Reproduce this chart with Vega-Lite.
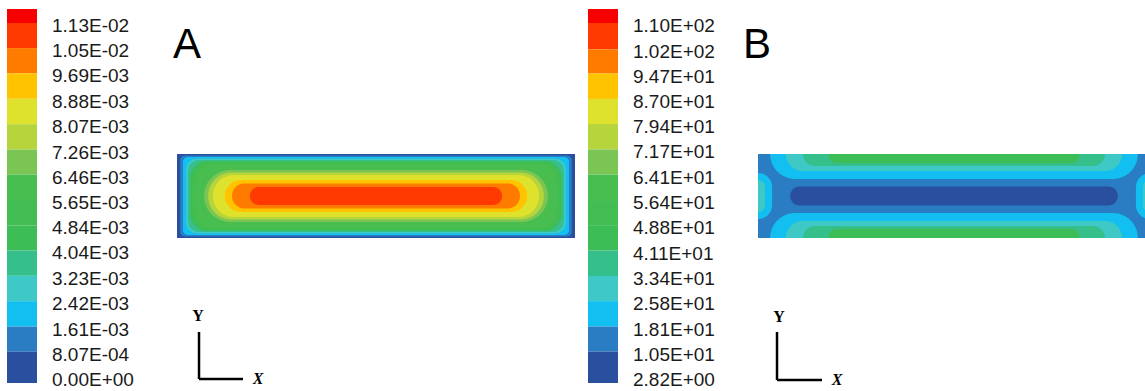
{
  "$schema": "https://vega.github.io/schema/vega-lite/v6.json",
  "background": "white",
  "padding": {"left": 7, "top": 9, "right": 0, "bottom": 0},
  "config": {"view": {"stroke": null}},
  "datasets": {
    "legendA_bands": [
      {"k": 14, "lo": 0.0113, "hi": 0.011747},
      {"k": 13, "lo": 0.0105, "hi": 0.0113},
      {"k": 12, "lo": 0.00969, "hi": 0.0105},
      {"k": 11, "lo": 0.00888, "hi": 0.00969},
      {"k": 10, "lo": 0.00807, "hi": 0.00888},
      {"k": 9, "lo": 0.00726, "hi": 0.00807},
      {"k": 8, "lo": 0.00646, "hi": 0.00726},
      {"k": 7, "lo": 0.00565, "hi": 0.00646},
      {"k": 6, "lo": 0.00484, "hi": 0.00565},
      {"k": 5, "lo": 0.00404, "hi": 0.00484},
      {"k": 4, "lo": 0.00323, "hi": 0.00404},
      {"k": 3, "lo": 0.00242, "hi": 0.00323},
      {"k": 2, "lo": 0.00161, "hi": 0.00242},
      {"k": 1, "lo": 0.000807, "hi": 0.00161},
      {"k": 0, "lo": -0.000191, "hi": 0.000807}
    ],
    "legendA_labels": [
      {"v": 0.0113, "label": "1.13E-02"},
      {"v": 0.0105, "label": "1.05E-02"},
      {"v": 0.00969, "label": "9.69E-03"},
      {"v": 0.00888, "label": "8.88E-03"},
      {"v": 0.00807, "label": "8.07E-03"},
      {"v": 0.00726, "label": "7.26E-03"},
      {"v": 0.00646, "label": "6.46E-03"},
      {"v": 0.00565, "label": "5.65E-03"},
      {"v": 0.00484, "label": "4.84E-03"},
      {"v": 0.00404, "label": "4.04E-03"},
      {"v": 0.00323, "label": "3.23E-03"},
      {"v": 0.00242, "label": "2.42E-03"},
      {"v": 0.00161, "label": "1.61E-03"},
      {"v": 0.000807, "label": "8.07E-04"},
      {"v": 0, "label": "0.00E+00"}
    ],
    "legendB_bands": [
      {"k": 14, "lo": 110, "hi": 114.23},
      {"k": 13, "lo": 102, "hi": 110},
      {"k": 12, "lo": 94.7, "hi": 102},
      {"k": 11, "lo": 87.0, "hi": 94.7},
      {"k": 10, "lo": 79.4, "hi": 87.0},
      {"k": 9, "lo": 71.7, "hi": 79.4},
      {"k": 8, "lo": 64.1, "hi": 71.7},
      {"k": 7, "lo": 56.4, "hi": 64.1},
      {"k": 6, "lo": 48.8, "hi": 56.4},
      {"k": 5, "lo": 41.1, "hi": 48.8},
      {"k": 4, "lo": 33.4, "hi": 41.1},
      {"k": 3, "lo": 25.8, "hi": 33.4},
      {"k": 2, "lo": 18.1, "hi": 25.8},
      {"k": 1, "lo": 10.5, "hi": 18.1},
      {"k": 0, "lo": 1.01, "hi": 10.5}
    ],
    "legendB_labels": [
      {"v": 110, "label": "1.10E+02"},
      {"v": 102, "label": "1.02E+02"},
      {"v": 94.7, "label": "9.47E+01"},
      {"v": 87.0, "label": "8.70E+01"},
      {"v": 79.4, "label": "7.94E+01"},
      {"v": 71.7, "label": "7.17E+01"},
      {"v": 64.1, "label": "6.41E+01"},
      {"v": 56.4, "label": "5.64E+01"},
      {"v": 48.8, "label": "4.88E+01"},
      {"v": 41.1, "label": "4.11E+01"},
      {"v": 33.4, "label": "3.34E+01"},
      {"v": 25.8, "label": "2.58E+01"},
      {"v": 18.1, "label": "1.81E+01"},
      {"v": 10.5, "label": "1.05E+01"},
      {"v": 2.82, "label": "2.82E+00"}
    ],
    "contA": [
      {"k": 0, "x0": 0, "x1": 100, "y0": 0, "y1": 21},
      {"k": 1, "x0": 0.8, "x1": 99.2, "y0": 0.4, "y1": 20.6},
      {"k": 2, "x0": 1.5, "x1": 98.5, "y0": 0.75, "y1": 20.25},
      {"k": 3, "x0": 2.3, "x1": 97.7, "y0": 1.1, "y1": 19.9},
      {"k": 4, "x0": 2.8, "x1": 97.2, "y0": 1.5, "y1": 19.5},
      {"k": 5, "x0": 3.3, "x1": 96.7, "y0": 1.75, "y1": 19.25},
      {"k": 6, "x0": 3.8, "x1": 96.2, "y0": 2.0, "y1": 19.0},
      {"k": 7, "x0": 4.5, "x1": 95.5, "y0": 2.5, "y1": 18.5},
      {"k": 8, "x0": 6.8, "x1": 93.2, "y0": 4.0, "y1": 17.0},
      {"k": 9, "x0": 7.8, "x1": 92.2, "y0": 4.6, "y1": 16.4},
      {"k": 10, "x0": 9.0, "x1": 91.0, "y0": 5.25, "y1": 15.75},
      {"k": 11, "x0": 12.0, "x1": 88.0, "y0": 6.5, "y1": 14.5},
      {"k": 12, "x0": 13.8, "x1": 86.2, "y0": 7.4, "y1": 13.6},
      {"k": 13, "x0": 18.3, "x1": 81.7, "y0": 8.25, "y1": 12.75}
    ],
    "contB": [
      {"region": "channel", "k": 1, "x0": 0, "x1": 100, "y0": 0, "y1": 21},
      {"region": "top wall", "k": 2, "x0": 3.1, "x1": 96.9, "y0": 14.75, "y1": 27.25},
      {"region": "top wall", "k": 3, "x0": 7.1, "x1": 92.9, "y0": 16.75, "y1": 25.25},
      {"region": "top wall", "k": 4, "x0": 11.5, "x1": 88.5, "y0": 18, "y1": 24},
      {"region": "top wall", "k": 5, "x0": 17.9, "x1": 82.1, "y0": 18.75, "y1": 23.25},
      {"region": "bottom wall", "k": 2, "x0": 3.1, "x1": 96.9, "y0": -6.25, "y1": 6.25},
      {"region": "bottom wall", "k": 3, "x0": 7.1, "x1": 92.9, "y0": -4.25, "y1": 4.25},
      {"region": "bottom wall", "k": 4, "x0": 11.5, "x1": 88.5, "y0": -3, "y1": 3},
      {"region": "bottom wall", "k": 5, "x0": 17.9, "x1": 82.1, "y0": -2.25, "y1": 2.25},
      {"region": "left wall", "k": 2, "x0": -3.6, "x1": 3.6, "y0": 4.75, "y1": 16.25},
      {"region": "left wall", "k": 3, "x0": -1.8, "x1": 1.8, "y0": 6.5, "y1": 14.5},
      {"region": "right wall", "k": 2, "x0": 96.4, "x1": 103.6, "y0": 4.75, "y1": 16.25},
      {"region": "right wall", "k": 3, "x0": 98.2, "x1": 101.8, "y0": 6.5, "y1": 14.5},
      {"region": "core", "k": 0, "x0": 8.2, "x1": 91.8, "y0": 8.125, "y1": 12.875}
    ],
    "axesA_lines": [
      {"x": 5.53, "y": -23.5, "x2": 5.53, "y2": -35.25},
      {"x": 5.53, "y": -35.25, "x2": 16.58, "y2": -35.25}
    ],
    "axesA_text": [
      {"x": 5.28, "y": -19.5, "t": "Y"},
      {"x": 20.35, "y": -35.25, "t": "X"}
    ],
    "axesB_lines": [
      {"x": 4.85, "y": -23.5, "x2": 4.85, "y2": -35.5},
      {"x": 4.85, "y": -35.5, "x2": 16.33, "y2": -35.5}
    ],
    "axesB_text": [
      {"x": 5.36, "y": -19.75, "t": "Y"},
      {"x": 20.15, "y": -35.5, "t": "X"}
    ]
  },
  "spacing": 13,
  "bounds": "full",
  "hconcat": [
    {
      "spacing": 140,
      "bounds": "flush",
      "center": true,
      "hconcat": [
        {
          "width": 30,
          "height": 374,
          "layer": [
            {
              "data": {"name": "legendA_bands"},
              "mark": {"type": "rect"},
              "encoding": {
                "y": {"field": "lo", "type": "quantitative", "scale": {"domain": [-0.000191, 0.011747], "nice": false, "zero": false}, "axis": null},
                "y2": {"field": "hi"},
                "color": {"field": "k", "type": "ordinal", "legend": null,
                  "scale": {"domain": [0,1,2,3,4,5,6,7,8,9,10,11,12,13,14],
                    "range": ["#2b4f9f","#2a7cc3","#12bff0","#3ec8c6","#35bf8b","#3dbd56","#42bd52","#47be4f","#7ac553","#b6d43c","#dfe22c","#ffc300","#ff7b00","#ff3900","#f70000"]}}
              }
            },
            {
              "data": {"name": "legendA_labels"},
              "mark": {"type": "text", "align": "left", "baseline": "middle", "dx": 30, "dy": 3, "font": "Liberation Sans", "fontSize": 19, "color": "#1a1a1a"},
              "encoding": {
                "y": {"field": "v", "type": "quantitative"},
                "text": {"field": "label"}
              }
            }
          ]
        },
        {
          "width": 398,
          "height": 84,
          "title": {"text": "A", "anchor": "start", "frame": "group", "orient": "top", "offset": 54, "fontSize": 42, "font": "Liberation Sans", "fontWeight": "normal", "color": "#000000", "dx": -4, "baseline": "alphabetic"},
          "layer": [
            {
              "data": {"name": "contA"},
              "transform": [{"filter": "datum.k == 0"}],
              "mark": {"type": "rect", "clip": true},
              "encoding": {
                "x": {"field": "x0", "type": "quantitative", "scale": {"domain": [0, 100], "nice": false, "zero": false}, "axis": null},
                "x2": {"field": "x1"},
                "y": {"field": "y0", "type": "quantitative", "scale": {"domain": [0, 21], "nice": false, "zero": false}, "axis": null},
                "y2": {"field": "y1"},
                "color": {"field": "k", "type": "ordinal", "legend": null}
              }
            },
            {
              "data": {"name": "contA"},
              "transform": [{"filter": "datum.k >= 1 && datum.k <= 2"}],
              "mark": {"type": "rect", "clip": true, "cornerRadius": 5},
              "encoding": {
                "x": {"field": "x0", "type": "quantitative"},
                "x2": {"field": "x1"},
                "y": {"field": "y0", "type": "quantitative"},
                "y2": {"field": "y1"},
                "color": {"field": "k", "type": "ordinal", "legend": null}
              }
            },
            {
              "data": {"name": "contA"},
              "transform": [{"filter": "datum.k >= 3 && datum.k <= 4"}],
              "mark": {"type": "rect", "clip": true, "cornerRadius": 11},
              "encoding": {
                "x": {"field": "x0", "type": "quantitative"},
                "x2": {"field": "x1"},
                "y": {"field": "y0", "type": "quantitative"},
                "y2": {"field": "y1"},
                "color": {"field": "k", "type": "ordinal", "legend": null}
              }
            },
            {
              "data": {"name": "contA"},
              "transform": [{"filter": "datum.k >= 5 && datum.k <= 7"}],
              "mark": {"type": "rect", "clip": true, "cornerRadius": 18},
              "encoding": {
                "x": {"field": "x0", "type": "quantitative"},
                "x2": {"field": "x1"},
                "y": {"field": "y0", "type": "quantitative"},
                "y2": {"field": "y1"},
                "color": {"field": "k", "type": "ordinal", "legend": null}
              }
            },
            {
              "data": {"name": "contA"},
              "transform": [{"filter": "datum.k >= 8"}],
              "mark": {"type": "rect", "clip": true, "cornerRadius": 999},
              "encoding": {
                "x": {"field": "x0", "type": "quantitative"},
                "x2": {"field": "x1"},
                "y": {"field": "y0", "type": "quantitative"},
                "y2": {"field": "y1"},
                "color": {"field": "k", "type": "ordinal", "legend": null}
              }
            },
            {
              "data": {"name": "axesA_lines"},
              "mark": {"type": "rule", "strokeWidth": 2.5, "color": "#000000"},
              "encoding": {
                "x": {"field": "x", "type": "quantitative"},
                "y": {"field": "y", "type": "quantitative"},
                "x2": {"field": "x2"},
                "y2": {"field": "y2"}
              }
            },
            {
              "data": {"name": "axesA_text"},
              "transform": [{"filter": "datum.t == 'Y'"}],
              "mark": {"type": "text", "font": "Liberation Serif", "fontSize": 16, "fontWeight": "bold", "color": "#000000", "align": "center", "baseline": "middle"},
              "encoding": {
                "x": {"field": "x", "type": "quantitative"},
                "y": {"field": "y", "type": "quantitative"},
                "text": {"field": "t"}
              }
            },
            {
              "data": {"name": "axesA_text"},
              "transform": [{"filter": "datum.t == 'X'"}],
              "mark": {"type": "text", "font": "Liberation Serif", "fontSize": 16, "fontWeight": "bold", "fontStyle": "italic", "color": "#000000", "align": "center", "baseline": "middle"},
              "encoding": {
                "x": {"field": "x", "type": "quantitative"},
                "y": {"field": "y", "type": "quantitative"},
                "text": {"field": "t"}
              }
            }
          ]
        }
      ]
    },
    {
      "spacing": 140,
      "bounds": "flush",
      "center": true,
      "hconcat": [
        {
          "width": 30,
          "height": 374,
          "layer": [
            {
              "data": {"name": "legendB_bands"},
              "mark": {"type": "rect"},
              "encoding": {
                "y": {"field": "lo", "type": "quantitative", "scale": {"domain": [1.01, 114.23], "nice": false, "zero": false}, "axis": null},
                "y2": {"field": "hi"},
                "color": {"field": "k", "type": "ordinal", "legend": null}
              }
            },
            {
              "data": {"name": "legendB_labels"},
              "mark": {"type": "text", "align": "left", "baseline": "middle", "dx": 30, "dy": 3, "font": "Liberation Sans", "fontSize": 19, "color": "#1a1a1a"},
              "encoding": {
                "y": {"field": "v", "type": "quantitative"},
                "text": {"field": "label"}
              }
            }
          ]
        },
        {
          "width": 392,
          "height": 84,
          "title": {"text": "B", "anchor": "start", "frame": "group", "orient": "top", "offset": 54, "fontSize": 42, "font": "Liberation Sans", "fontWeight": "normal", "color": "#000000", "dx": -15, "baseline": "alphabetic"},
          "layer": [
            {
              "data": {"name": "contB"},
              "transform": [{"filter": "datum.region == 'channel'"}],
              "mark": {"type": "rect", "clip": true},
              "encoding": {
                "x": {"field": "x0", "type": "quantitative", "scale": {"domain": [0, 100], "nice": false, "zero": false}, "axis": null},
                "x2": {"field": "x1"},
                "y": {"field": "y0", "type": "quantitative", "scale": {"domain": [0, 21], "nice": false, "zero": false}, "axis": null},
                "y2": {"field": "y1"},
                "color": {"field": "k", "type": "ordinal", "legend": null}
              }
            },
            {
              "data": {"name": "contB"},
              "transform": [{"filter": "datum.region != 'channel'"}],
              "mark": {"type": "rect", "clip": true, "cornerRadius": 999},
              "encoding": {
                "x": {"field": "x0", "type": "quantitative"},
                "x2": {"field": "x1"},
                "y": {"field": "y0", "type": "quantitative"},
                "y2": {"field": "y1"},
                "color": {"field": "k", "type": "ordinal", "legend": null}
              }
            },
            {
              "data": {"name": "axesB_lines"},
              "mark": {"type": "rule", "strokeWidth": 2.5, "color": "#000000"},
              "encoding": {
                "x": {"field": "x", "type": "quantitative"},
                "y": {"field": "y", "type": "quantitative"},
                "x2": {"field": "x2"},
                "y2": {"field": "y2"}
              }
            },
            {
              "data": {"name": "axesB_text"},
              "transform": [{"filter": "datum.t == 'Y'"}],
              "mark": {"type": "text", "font": "Liberation Serif", "fontSize": 16, "fontWeight": "bold", "color": "#000000", "align": "center", "baseline": "middle"},
              "encoding": {
                "x": {"field": "x", "type": "quantitative"},
                "y": {"field": "y", "type": "quantitative"},
                "text": {"field": "t"}
              }
            },
            {
              "data": {"name": "axesB_text"},
              "transform": [{"filter": "datum.t == 'X'"}],
              "mark": {"type": "text", "font": "Liberation Serif", "fontSize": 16, "fontWeight": "bold", "fontStyle": "italic", "color": "#000000", "align": "center", "baseline": "middle"},
              "encoding": {
                "x": {"field": "x", "type": "quantitative"},
                "y": {"field": "y", "type": "quantitative"},
                "text": {"field": "t"}
              }
            }
          ]
        }
      ]
    }
  ]
}
